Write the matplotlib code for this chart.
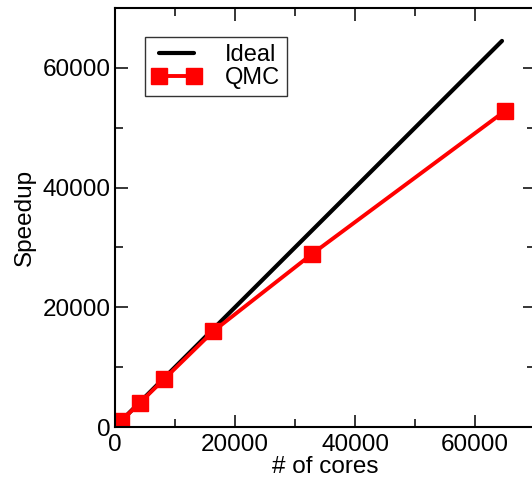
import matplotlib
matplotlib.use("Agg")
import matplotlib.pyplot as plt
from matplotlib.ticker import MultipleLocator

plt.rcParams['font.family'] = ['Liberation Sans', 'DejaVu Sans']

ideal_x = [0, 64500]
ideal_y = [0, 64500]
cores = [1024, 4096, 8192, 16384, 32768, 65000]
speedup = [1024, 4000, 8000, 16000, 28850, 52800]

W, H = 532, 479
fig = plt.figure(figsize=(W/100, H/100), dpi=100)
ax = fig.add_axes([115/W, (H-427)/H, 420/W, 419/H])

ax.plot(ideal_x, ideal_y, color='black', lw=3, solid_capstyle='round', label='Ideal')
ax.plot(cores, speedup, color='#ff0000', lw=2.8, marker='s', markersize=12,
        markeredgecolor='#ff0000', label='QMC')

ax.set_xlim(0, 70000)
ax.set_ylim(0, 70000)
ax.xaxis.set_major_locator(MultipleLocator(20000))
ax.yaxis.set_major_locator(MultipleLocator(20000))
ax.xaxis.set_minor_locator(MultipleLocator(10000))
ax.yaxis.set_minor_locator(MultipleLocator(10000))
ax.tick_params(which='both', direction='in', top=True, right=True, width=1.1,
               labelsize=17.5)
ax.tick_params(which='major', length=9)
ax.tick_params(which='minor', length=5.5)
ax.tick_params(axis='x', pad=5)
ax.tick_params(axis='y', pad=3)
for s in ax.spines.values():
    s.set_linewidth(1.5)

ax.set_xlabel('# of cores', fontsize=17.5, labelpad=0)
ax.set_ylabel('Speedup', fontsize=17.5, labelpad=5)

leg = ax.legend(loc='upper left', bbox_to_anchor=(0.071, 0.931), borderaxespad=0,
                fontsize=17, fancybox=False, frameon=True, numpoints=2,
                handlelength=2.1, handletextpad=1.0, labelspacing=0.05,
                borderpad=0.3)
leg.get_frame().set_edgecolor('black')
leg.get_frame().set_linewidth(1.0)

fig.savefig('out.png', dpi=100)
